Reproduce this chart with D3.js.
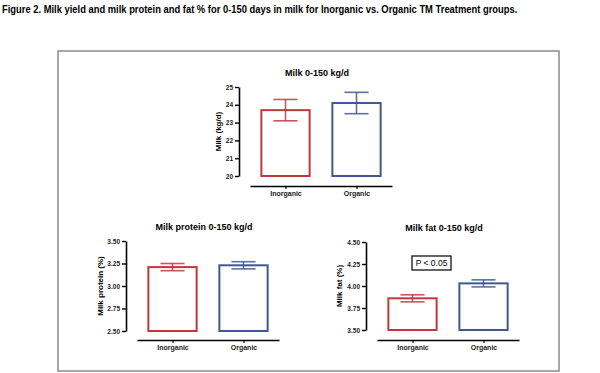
<!DOCTYPE html>
<html>
<head>
<meta charset="utf-8">
<script src="https://cdn.jsdelivr.net/npm/d3@7"></script>
<style>
  body { margin: 0; background: #fff; }
  text { font-family: "Liberation Sans", Arial, sans-serif; }
</style>
</head>
<body>
<script>
// data (mean and SE per treatment)
var groups = ["Inorganic", "Organic"];
var groupColors = ["#c0393f", "#42598f"];

var yieldMean = [23.7, 24.1];
var yieldSE = [0.6, 0.6];
var yieldTicks = [20, 21, 22, 23, 24, 25];

var proteinMean = [3.21, 3.23];
var proteinSE = [0.04, 0.04];
var proteinTicks = [2.50, 2.75, 3.00, 3.25, 3.50];

var fatMean = [3.86, 4.03];
var fatSE = [0.04, 0.04];
var fatTicks = [3.50, 3.75, 4.00, 4.25, 4.50];

var width = 600, height = 373;

var svg = d3.select("body").append("svg")
    .attr("width", width)
    .attr("height", height);

// header is a condensed face in the original, so squeeze it horizontally
var header = svg.append("text")
    .attr("y", 13)
    .style("font-weight", "bold")
    .style("font-size", "11.5px")
    .text("Figure 2.  Milk yield and milk protein and fat % for 0-150 days in milk for Inorganic vs. Organic TM Treatment groups.");
var sx = 516 / header.node().getComputedTextLength();
header.attr("x", 2 / sx)
    .attr("transform", "scale(" + sx + ",1)");

// outer frame
svg.append("rect")
    .attr("x", 58)
    .attr("y", 51)
    .attr("width", 501)
    .attr("height", 320)
    .attr("fill", "none")
    .attr("stroke", "#8a8a8a")
    .attr("stroke-width", 1.5);

function panel(o) {
  var g = svg.append("g");

  var y = d3.scaleLinear()
      .domain([o.ticks[0], o.ticks[o.ticks.length - 1]])
      .range([o.bottom, o.top]);

  var x = d3.scalePoint()
      .domain(groups)
      .range([o.axisX + 11, o.axisX + 153])
      .padding(0.5);

  var barW = x.step() * 0.68;
  var capW = barW * 0.5;

  // y axis
  var ya = g.append("g")
      .attr("transform", "translate(" + o.axisX + ",0)")
      .call(d3.axisLeft(y).tickValues(o.ticks).tickFormat(d3.format(o.fmt)).tickSize(4).tickSizeOuter(0).tickPadding(2));
  ya.select(".domain").attr("stroke-width", 1.6);
  ya.selectAll(".tick line").attr("stroke-width", 1.4);
  ya.selectAll("text")
      .style("font-size", "6.5px")
      .style("font-weight", "bold")
      .attr("fill", "#222");

  // x axis
  var xa = g.append("g")
      .attr("transform", "translate(0," + o.axisY + ")")
      .call(d3.axisBottom(x).tickSize(3).tickSizeOuter(0).tickPadding(2));
  xa.select(".domain").attr("stroke-width", 1.6);
  xa.selectAll(".tick line").attr("stroke-width", 1.2);
  xa.selectAll("text")
      .style("font-size", "7px")
      .style("font-weight", "bold")
      .attr("fill", "#222");

  var rows = groups.map(function(d, i) {
    return {name: d, mean: o.mean[i], se: o.se[i], color: groupColors[i]};
  });

  g.selectAll(".bar")
      .data(rows)
      .enter().append("rect")
      .attr("class", "bar")
      .attr("x", function(d) { return x(d.name) - barW / 2; })
      .attr("y", function(d) { return y(d.mean); })
      .attr("width", barW)
      .attr("height", function(d) { return y(o.ticks[0]) - y(d.mean); })
      .attr("fill", "#fff")
      .attr("stroke", function(d) { return d.color; })
      .attr("stroke-width", 2);

  var err = g.selectAll(".err")
      .data(rows)
      .enter().append("g")
      .attr("stroke", function(d) { return d.color; })
      .attr("stroke-opacity", 0.85)
      .attr("stroke-width", 1.6);

  err.append("line")
      .attr("x1", function(d) { return x(d.name); })
      .attr("x2", function(d) { return x(d.name); })
      .attr("y1", function(d) { return y(d.mean - d.se); })
      .attr("y2", function(d) { return y(d.mean + d.se); });
  err.append("line")
      .attr("x1", function(d) { return x(d.name) - capW / 2; })
      .attr("x2", function(d) { return x(d.name) + capW / 2; })
      .attr("y1", function(d) { return y(d.mean + d.se); })
      .attr("y2", function(d) { return y(d.mean + d.se); });
  err.append("line")
      .attr("x1", function(d) { return x(d.name) - capW / 2; })
      .attr("x2", function(d) { return x(d.name) + capW / 2; })
      .attr("y1", function(d) { return y(d.mean - d.se); })
      .attr("y2", function(d) { return y(d.mean - d.se); });

  g.append("text")
      .attr("x", o.axisX + 78)
      .attr("y", o.top - 11)
      .style("text-anchor", "middle")
      .style("font-size", "9px")
      .style("font-weight", "bold")
      .text(o.title);

  g.append("text")
      .attr("transform", "rotate(-90)")
      .attr("x", -(o.top + o.bottom) / 2)
      .attr("y", o.labelX)
      .attr("dy", "0.35em")
      .style("text-anchor", "middle")
      .style("font-size", "8px")
      .style("font-weight", "bold")
      .text(o.ylabel);

  return {g: g, x: x, y: y};
}

panel({title: "Milk 0-150 kg/d", ylabel: "Milk (kg/d)", mean: yieldMean, se: yieldSE,
       ticks: yieldTicks, fmt: "d", axisX: 239, top: 87, bottom: 176, axisY: 186, labelX: 218});

panel({title: "Milk protein 0-150 kg/d", ylabel: "Milk protein (%)", mean: proteinMean, se: proteinSE,
       ticks: proteinTicks, fmt: ".2f", axisX: 126, top: 241, bottom: 331, axisY: 340, labelX: 100});

var fat = panel({title: "Milk fat 0-150 kg/d", ylabel: "Milk fat (%)", mean: fatMean, se: fatSE,
       ticks: fatTicks, fmt: ".2f", axisX: 366, top: 242, bottom: 330, axisY: 340, labelX: 339});

// significance note
var note = fat.g.append("g");
note.append("rect")
    .attr("x", 412)
    .attr("y", 256)
    .attr("width", 39)
    .attr("height", 14)
    .attr("fill", "#fff")
    .attr("stroke", "#111")
    .attr("stroke-width", 1.3);
note.append("text")
    .attr("x", 431.5)
    .attr("y", 263)
    .attr("dy", "0.35em")
    .style("text-anchor", "middle")
    .style("font-size", "8.5px")
    .text("P < 0.05");
</script>
</body>
</html>
